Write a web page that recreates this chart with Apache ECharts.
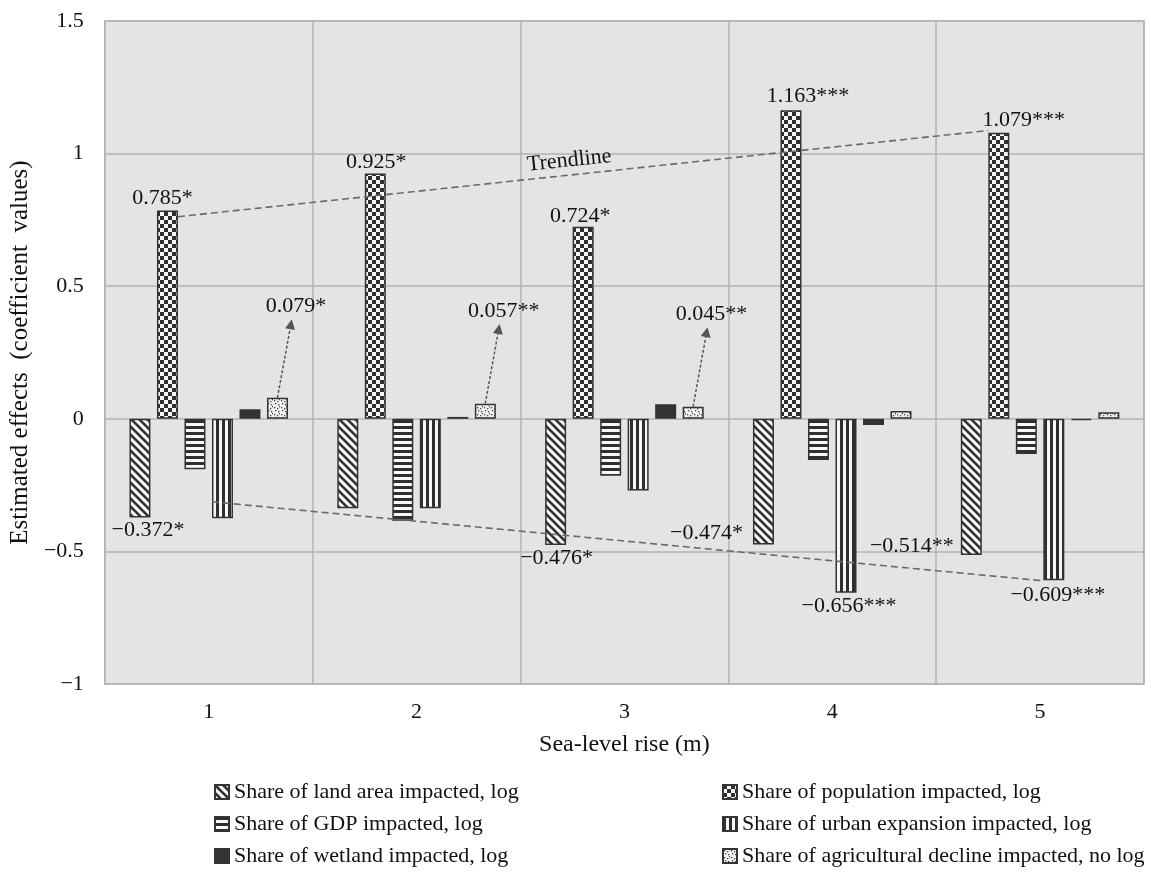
<!DOCTYPE html>
<html><head><meta charset="utf-8">
<script src="https://cdn.jsdelivr.net/npm/echarts@6/dist/echarts.min.js"></script>
<style>html,body{margin:0;padding:0;background:#fff}#c{width:1151px;height:874px}</style>
</head><body><div id="c"></div>
<script>
// ---------------- data ----------------
const categories = ['1', '2', '3', '4', '5'];
const seriesNames = [
  'Share of land area impacted, log',
  'Share of population impacted, log',
  'Share of GDP impacted, log',
  'Share of urban expansion impacted, log',
  'Share of wetland impacted, log',
  'Share of agricultural decline impacted, no log'
];
const landArea   = [-0.372, -0.337, -0.476, -0.474, -0.514];
const population = [0.785, 0.925, 0.724, 1.163, 1.079];
const gdp        = [-0.190, -0.384, -0.215, -0.155, -0.133];
const urban      = [-0.375, -0.337, -0.270, -0.656, -0.609];
const wetland    = [0.036, 0.007, 0.055, -0.023, -0.005];
const agri       = [0.079, 0.057, 0.045, 0.029, 0.025];

const landLabels  = ['−0.372*', '', '−0.476*', '−0.474*', '−0.514**'];
const popLabels   = ['0.785*', '0.925*', '0.724*', '1.163***', '1.079***'];
const urbanLabels = ['', '', '', '−0.656***', '−0.609***'];
const agriLabels  = ['0.079*', '0.057**', '0.045**'];
const agriArrowEnd = [0.357, 0.339, 0.327];     // arrow head values
const trendPop   = [0.762, 1.087];              // trendline end values (population)
const trendUrban = [-0.313, -0.611];            // trendline end values (urban expansion)
const yTicks = { min: -1, max: 1.5, interval: 0.5 };

// ---------------- style / layout ----------------
const chart = echarts.init(document.getElementById('c'), null, { renderer: 'canvas' });
const FONT = '"Liberation Serif", "Times New Roman", serif';
const TXT = '#111';
const GRID = { left: 104, right: 7, top: 21, bottom: 190 };
const BAR_W = 21, BAR_GAP_PX = 6.5;
const catW = (1151 - GRID.left - GRID.right) / categories.length;
const off = k => (k - 2.5) * (BAR_W + BAR_GAP_PX) / catW;   // bar centre offset in category units
const half = (BAR_W / 2) / catW;

function pattern(w, h, draw) {
  const c = document.createElement('canvas');
  c.width = w; c.height = h;
  const g = c.getContext('2d');
  draw(g, w, h);
  return { image: c, repeat: 'repeat' };
}
const DARK = '#2f2f2f';
const patLand = pattern(8, 8, (g) => {
  g.fillStyle = '#f7f7f7'; g.fillRect(0, 0, 8, 8);
  g.strokeStyle = DARK; g.lineWidth = 2.6;
  for (let k = -1; k <= 1; k++) { g.beginPath(); g.moveTo(-2, -2 + k * 8); g.lineTo(10, 10 + k * 8); g.stroke(); }
});
const patPop = pattern(8, 8, (g) => {
  g.fillStyle = '#f7f7f7'; g.fillRect(0, 0, 8, 8);
  g.fillStyle = DARK; g.fillRect(0, 0, 4, 4); g.fillRect(4, 4, 4, 4);
});
const patGdp = pattern(4, 6, (g) => {
  g.fillStyle = DARK; g.fillRect(0, 0, 4, 6);
  g.fillStyle = '#f7f7f7'; g.fillRect(0, 3, 4, 3);
});
const patUrban = pattern(6, 4, (g) => {
  g.fillStyle = DARK; g.fillRect(0, 0, 6, 4);
  g.fillStyle = '#f7f7f7'; g.fillRect(3, 0, 3, 4);
});
const patAgri = pattern(7, 7, (g) => {
  g.fillStyle = '#f2f2f2'; g.fillRect(0, 0, 7, 7);
  g.fillStyle = '#444';
  [[1, 1], [4, 2], [2, 4], [5, 5], [6, 0]].forEach(p => g.fillRect(p[0], p[1], 1.3, 1.3));
});
const fills = [patLand, patPop, patGdp, patUrban, '#333', patAgri];

const landCfg = [
  { position: 'bottom', distance: 2, offset: [8, 0] }, null,
  { position: 'bottom', distance: 2, offset: [1, 0] },
  { position: [-10, '100%'], align: 'right', verticalAlign: 'bottom' },
  { position: [-7, '100%'], align: 'right', verticalAlign: 'bottom', offset: [0, 2] }
];
const popCfg = [
  { position: 'top', distance: 1, offset: [-5, 0] },
  { position: 'top', distance: 0, offset: [1, 0] },
  { position: 'top', distance: 0, offset: [-3, 0] },
  { position: 'top', distance: 3, offset: [17, 0] },
  { position: 'top', distance: 1, offset: [25, 0] }
];
const urbanCfg = [null, null, null,
  { position: 'bottom', distance: 2, offset: [3, 0] },
  { position: 'bottom', distance: 4, offset: [4, 0] }
];

function barSeries(k, values, labels, cfg) {
  return {
    type: 'bar', name: seriesNames[k], xAxisIndex: 0, yAxisIndex: 0,
    barWidth: BAR_W, barGap: (BAR_GAP_PX / BAR_W * 100).toFixed(0) + '%',
    itemStyle: { color: fills[k], borderColor: '#333', borderWidth: 1.5 },
    label: { show: false, fontFamily: FONT, fontSize: 22, color: TXT },
    data: values.map((v, i) => {
      const d = { value: v };
      if (labels && labels[i]) d.label = Object.assign({ show: true, formatter: labels[i] }, cfg[i]);
      return d;
    }),
    z: 2
  };
}

const dashed = { type: [7, 4], color: '#6a6a6a', width: 1.6 };
const upperLine = [[1 + off(1) + half, trendPop[0]], [5 + off(1) - half, trendPop[1]]];
const lowerLine = [[1 + off(3) - half, trendUrban[0]], [5 + off(3) - half, trendUrban[1]]];
const lblX = 2.74;
const lblY = upperLine[0][1] + (upperLine[1][1] - upperLine[0][1]) * (lblX - upperLine[0][0]) / (upperLine[1][0] - upperLine[0][0]);
const arrowDx = 0.065;
const legendText = { fontFamily: FONT, fontSize: 22, color: TXT };

const option = {
  animation: false,
  backgroundColor: '#fff',
  grid: Object.assign({ show: true, backgroundColor: '#e4e4e4', borderColor: '#b3b3b3', borderWidth: 1.5 }, GRID),
  xAxis: [
    {
      type: 'category', data: categories,
      name: 'Sea-level rise (m)', nameLocation: 'middle', nameGap: 49,
      nameTextStyle: { fontFamily: FONT, fontSize: 24, color: TXT },
      axisLine: { show: false }, axisTick: { show: false },
      axisLabel: { fontFamily: FONT, fontSize: 22, color: TXT, margin: 17 },
      splitLine: { show: true, interval: 0, lineStyle: { color: '#b3b3b3', width: 1.5 } }
    },
    { type: 'value', min: 0.5, max: 5.5, show: false }
  ],
  yAxis: {
    type: 'value', min: yTicks.min, max: yTicks.max, interval: yTicks.interval,
    name: 'Estimated effects  (coefficient  values)', nameLocation: 'middle', nameGap: 65,
    nameTextStyle: { fontFamily: FONT, fontSize: 25, color: TXT },
    axisLine: { show: false }, axisTick: { show: false },
    axisLabel: { fontFamily: FONT, fontSize: 22, color: TXT, margin: 21,
      formatter: v => (v < 0 ? '−' + Math.abs(v) : String(v)) },
    splitLine: { show: true, lineStyle: { color: '#b3b3b3', width: 1.5 } }
  },
  legend: [
    { data: [seriesNames[0], seriesNames[2], seriesNames[4]], orient: 'vertical', left: 214, top: 781,
      padding: 0, icon: 'rect', itemWidth: 14, itemHeight: 14, itemGap: 10, textStyle: legendText },
    { data: [seriesNames[1], seriesNames[3], seriesNames[5]], orient: 'vertical', left: 722, top: 781,
      padding: 0, icon: 'rect', itemWidth: 14, itemHeight: 14, itemGap: 10, textStyle: legendText }
  ],
  series: [
    barSeries(0, landArea, landLabels, landCfg),
    barSeries(1, population, popLabels, popCfg),
    barSeries(2, gdp, null, []),
    barSeries(3, urban, urbanLabels, urbanCfg),
    barSeries(4, wetland, null, []),
    barSeries(5, agri, null, []),
    { type: 'line', name: 'trendPop', xAxisIndex: 1, yAxisIndex: 0, data: upperLine, symbol: 'none',
      lineStyle: dashed, z: 5, silent: true },
    { type: 'line', name: 'trendUrban', xAxisIndex: 1, yAxisIndex: 0, data: lowerLine, symbol: 'none',
      lineStyle: dashed, z: 5, silent: true },
    { type: 'scatter', name: 'trendLabel', xAxisIndex: 1, yAxisIndex: 0, symbolSize: 1,
      itemStyle: { color: 'rgba(0,0,0,0)', opacity: 1 }, silent: true, z: 6,
      data: [[lblX, lblY]],
      label: { show: true, formatter: 'Trendline', position: 'top', distance: 3, rotate: 6,
        fontFamily: FONT, fontSize: 22, color: TXT } },
    { type: 'scatter', name: 'agriNotes', xAxisIndex: 1, yAxisIndex: 0, symbolSize: 1,
      itemStyle: { color: 'rgba(0,0,0,0)', opacity: 1 }, silent: true, z: 6,
      data: agriArrowEnd.map((v, i) => ({ value: [i + 1 + off(5) + arrowDx, v], label: { show: true, formatter: agriLabels[i] } })),
      label: { position: 'top', distance: 6, offset: [5, 0], fontFamily: FONT, fontSize: 22, color: TXT },
      markLine: {
        silent: true, symbol: ['none', 'triangle'], symbolSize: 10, label: { show: false },
        lineStyle: { type: [3, 2], color: '#555', width: 1.5, opacity: 1 },
        emphasis: { disabled: true },
        data: agriArrowEnd.map((v, i) => [
          { coord: [i + 1 + off(5), agri[i]] },
          { coord: [i + 1 + off(5) + arrowDx, v] }
        ])
      } }
  ]
};
chart.setOption(option);
</script></body></html>
